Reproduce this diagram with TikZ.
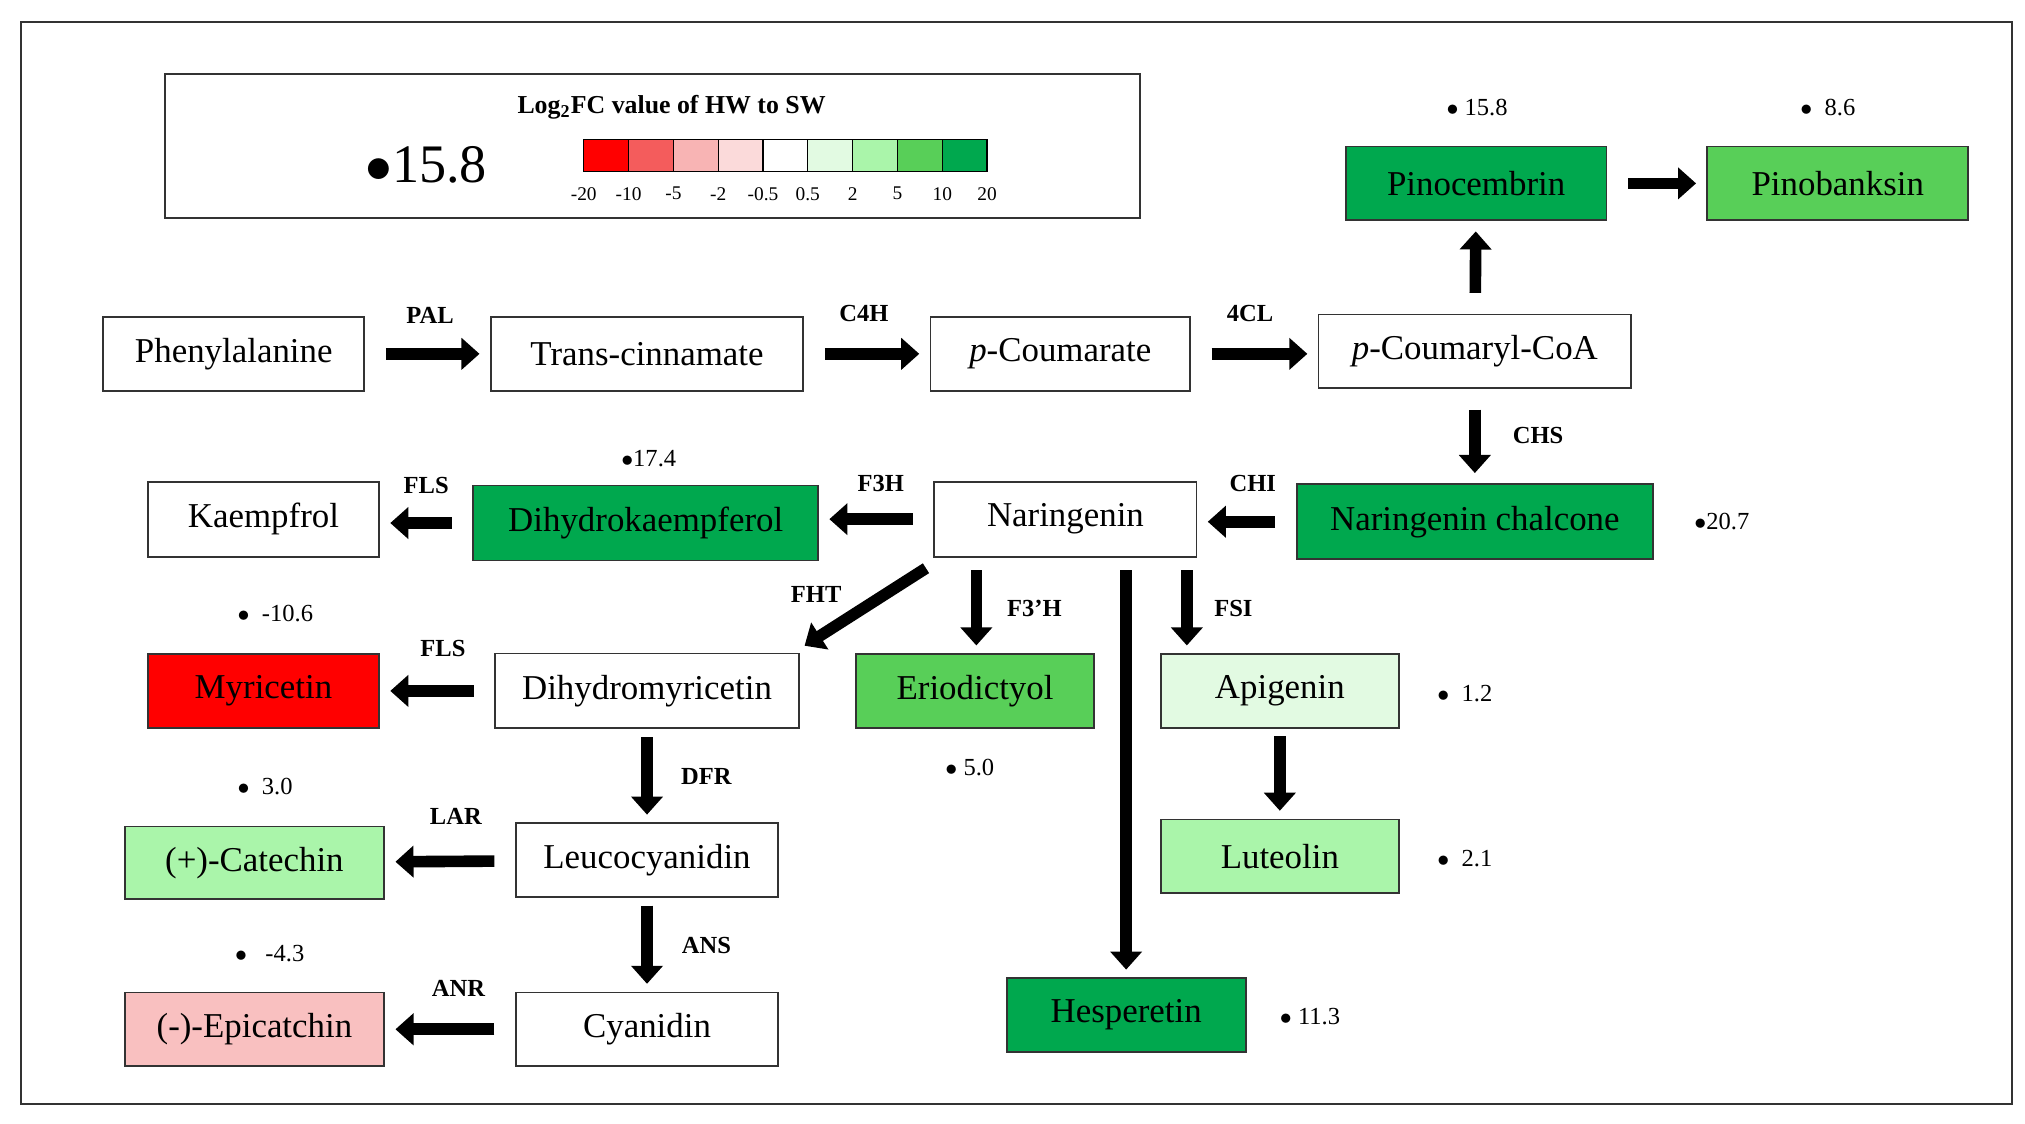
\documentclass[tikz,border=0pt]{standalone}
\usepackage{fontspec}
\setmainfont{Liberation Serif}
\usetikzlibrary{arrows.meta}
\definecolor{c1}{HTML}{FF0000}\definecolor{c2}{HTML}{F45C5C}\definecolor{c3}{HTML}{F8B4B4}
\definecolor{c4}{HTML}{FBDADA}\definecolor{c5}{HTML}{FFFFFF}\definecolor{c6}{HTML}{E2FAE2}
\definecolor{c7}{HTML}{AAF5AA}\definecolor{c8}{HTML}{58CF58}\definecolor{c9}{HTML}{00A84E}
\definecolor{epi}{HTML}{F9C0C0}
\begin{document}
\begin{tikzpicture}[x=0.5pt,y=-0.5pt,
 box/.style={draw=black!80,line width=0.7pt,inner sep=0pt,font=\fontsize{13.5}{15}\selectfont},
 lab/.style={font=\bfseries\fontsize{9.5}{11}\selectfont},
 val/.style={font=\fontsize{9.5}{11}\selectfont,anchor=west},
 arr/.style={line width=4.5pt,-{Triangle[length=7pt,width=12pt]},shorten <=8pt,shorten >=4pt}]
\useasboundingbox (0,0) rectangle (1568,870);
\draw[line width=0.8pt,black!80] (16,17) rectangle (1558,855);
% legend
\draw[line width=0.8pt,black!80] (128,57) rectangle (883,169);
\node[font=\bfseries\fontsize{10}{12}\selectfont] (lt) at (520,83) {Log\textsubscript{2}FC value of HW to SW};
\node[font=\fontsize{21}{24}\selectfont] (lv) at (330,128) {$\bullet$15.8};
\foreach \c [count=\i from 0] in {c1,c2,c3,c4,c5,c6,c7,c8,c9}
  \draw[fill=\c,line width=0.5pt] (452+\i*34.7,108) rectangle (452+\i*34.7+34.7,133);
\foreach \t [count=\i from 0] in {-20,-10,-5,-2,-0.5,0.5,2,5,10,20}
  \node[font=\fontsize{7.5}{9}\selectfont] (tk\i) at (452+\i*34.7,150) {\t};
% nodes
\newcommand{\bx}[7]{\node[box,fill=#6,minimum width=#4*0.5pt,minimum height=#5*0.5pt] (#1) at (#2,#3) {#7};}
\bx{phe}{181}{274}{202}{57}{white}{Phenylalanine}
\bx{tc}{501}{274}{242}{57}{white}{Trans-cinnamate}
\bx{pc}{821}{274}{201}{57}{white}{\textit{p}-Coumarate}
\bx{coa}{1142}{272}{242}{57}{white}{\textit{p}-Coumaryl-CoA}
\bx{pino}{1143}{142}{202}{57}{c9}{Pinocembrin}
\bx{pinb}{1423}{142}{202}{57}{c8}{Pinobanksin}
\bx{chal}{1142}{404}{276}{58}{c9}{Naringenin chalcone}
\bx{nar}{825}{402}{203}{58}{white}{Naringenin}
\bx{dhk}{500}{405}{267}{58}{c9}{Dihydrokaempferol}
\bx{kae}{204}{402}{179}{58}{white}{Kaempfrol}
\bx{myr}{204}{535}{179}{57}{c1}{Myricetin}
\bx{dhm}{501}{535}{235}{58}{white}{Dihydromyricetin}
\bx{eri}{755}{535}{184}{57}{c8}{Eriodictyol}
\bx{api}{991}{535}{184}{57}{c6}{Apigenin}
\bx{lut}{991}{663}{184}{57}{c7}{Luteolin}
\bx{cat}{197}{668}{201}{56}{c7}{(+)-Catechin}
\bx{leu}{501}{666}{203}{57}{white}{Leucocyanidin}
\bx{epi}{197}{797}{201}{57}{epi}{(-)-Epicatchin}
\bx{cya}{501}{797}{203}{57}{white}{Cyanidin}
\bx{hes}{872}{786}{185}{57}{c9}{Hesperetin}
% arrows
\draw[arr] (phe) -- (tc);
\draw[arr] (tc) -- (pc);
\draw[arr] (pc.east) -- (coa.west |- pc.east);
\draw[arr] (coa) -- (pino);
\draw[arr] (pino) -- (pinb);
\draw[arr] (coa) -- (chal);
\draw[arr] (chal.west) -- (nar.east |- chal.west);
\draw[arr] (nar.west) -- (dhk.east |- nar.west);
\draw[arr] (dhk.west) -- (kae.east |- dhk.west);
\coordinate (f1) at (717,440); \coordinate (f2) at (623,500);
\draw[arr,shorten <=0pt,shorten >=0pt] (f1) -- (f2);
\coordinate (xe) at (756,0); \coordinate (xh) at (872,0); \coordinate (xf) at (919,0);
\draw[arr,shorten <=5pt,shorten >=3pt] (nar.south -| xe) -- (eri.north -| xe);
\draw[arr,shorten <=5pt,shorten >=3pt] (nar.south -| xh) -- (hes.north -| xh);
\draw[arr,shorten <=5pt,shorten >=3pt] (nar.south -| xf) -- (api.north -| xf);
\draw[arr,shorten <=3pt,shorten >=3pt] (api) -- (lut);
\draw[arr] (dhm) -- (myr);
\draw[arr,shorten <=3pt,shorten >=3pt] (dhm) -- (leu);
\draw[arr] (leu) -- (cat);
\draw[arr,shorten <=3pt,shorten >=3pt] (leu) -- (cya);
\draw[arr] (cya) -- (epi);
% enzyme labels
\node[lab] (l1) at (333,244) {PAL};
\node[lab] (l2) at (669,243) {C4H};
\node[lab] (l3) at (968,243) {4CL};
\node[lab] (l4) at (1191,337) {CHS};
\node[lab] (l5) at (970,374) {CHI};
\node[lab] (l6) at (682,374) {F3H};
\node[lab] (l7) at (330,376) {FLS};
\node[lab] (l8) at (632,460) {FHT};
\node[lab] (l9) at (801,471) {F3’H};
\node[lab] (l10) at (955,471) {FSI};
\node[lab] (l11) at (343,502) {FLS};
\node[lab] (l12) at (547,601) {DFR};
\node[lab] (l13) at (353,632) {LAR};
\node[lab] (l14) at (547,732) {ANS};
\node[lab] (l15) at (355,765) {ANR};
% values
\node[val] (v1) at (1113,83) {$\bullet$ 15.8};
\node[val] (v2) at (1387,83) {$\bullet$ \ 8.6};
\node[val] (v3) at (474,355) {$\bullet$17.4};
\node[val] (v4) at (1305,404) {$\bullet$20.7};
\node[val] (v5) at (177,475) {$\bullet$ \ -10.6};
\node[val] (v6) at (725,594) {$\bullet$ 5.0};
\node[val] (v7) at (1106,537) {$\bullet$ \ 1.2};
\node[val] (v8) at (1106,665) {$\bullet$ \ 2.1};
\node[val] (v9) at (177,609) {$\bullet$ \ 3.0};
\node[val] (v10) at (175,738) {$\bullet$ \ \ -4.3};
\node[val] (v11) at (984,787) {$\bullet$ 11.3};
\end{tikzpicture}
\end{document}
